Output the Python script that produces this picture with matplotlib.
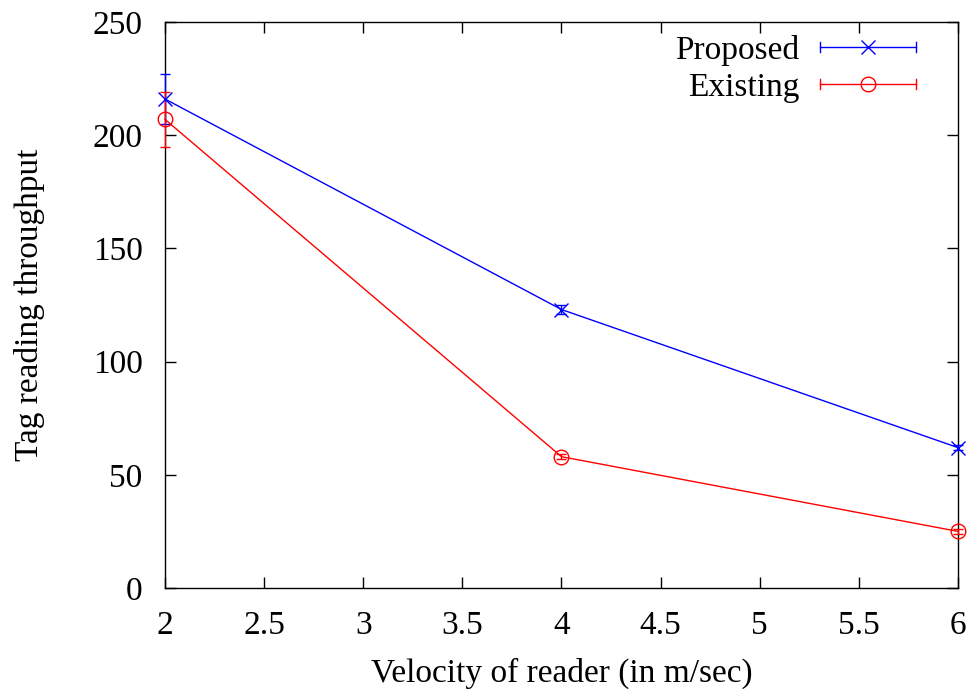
import matplotlib.pyplot as plt
from matplotlib.legend_handler import HandlerBase
from matplotlib.lines import Line2D

# Throughput vs reader velocity
velocidade = [2, 4, 6]
proposto = [216, 123, 62]
proposto_err = [11, 2, 1]
existente = [207, 58, 25]
existente_err = [12, 1, 1]

plt.rcParams['font.family'] = ['Liberation Serif', 'DejaVu Serif']
plt.rcParams['font.size'] = 24


class HandlerErroHorizontal(HandlerBase):
    ''' Amostra de legenda no estilo gnuplot: linha com barras nas pontas '''

    def create_artists(self, legend, orig, xd, yd, w, h, fontsize, trans):
        cor = orig.get_color()
        y = yd + h / 2
        linha = Line2D([xd, xd + w], [y, y], color=cor, lw=1, transform=trans)
        cap1 = Line2D([xd, xd], [y - 3.5, y + 3.5], color=cor, lw=1,
                      transform=trans)
        cap2 = Line2D([xd + w, xd + w], [y - 3.5, y + 3.5], color=cor, lw=1,
                      transform=trans)
        marca = Line2D([xd + w / 2], [y], marker=orig.get_marker(),
                       markersize=orig.get_markersize(),
                       markerfacecolor='none', markeredgecolor=cor,
                       markeredgewidth=1, linestyle='none', transform=trans)
        return [linha, cap1, cap2, marca]


fig = plt.figure(figsize=(9.76, 6.92), dpi=100)
ax = fig.add_axes([0.169, 0.1503, 0.8126, 0.8179])

ax.errorbar(velocidade, proposto, yerr=proposto_err, color='#0000ff',
            marker='x', markersize=10, markeredgewidth=1, lw=1,
            capsize=3.5, elinewidth=1, capthick=1, clip_on=False, zorder=3)
ax.errorbar(velocidade, existente, yerr=existente_err, color='#ff0000',
            marker='o', markersize=10.5, markerfacecolor='none',
            markeredgewidth=1, lw=1, capsize=3.5, elinewidth=1, capthick=1,
            clip_on=False, zorder=3)

h1 = Line2D([], [], color='#0000ff', marker='x', markersize=10)
h2 = Line2D([], [], color='#ff0000', marker='o', markersize=10.5)
leg = ax.legend([h1, h2], ['Proposed', 'Existing'],
                handler_map={Line2D: HandlerErroHorizontal()},
                loc='upper right', frameon=False, markerfirst=False,
                handlelength=2.9, handletextpad=0.6, labelspacing=0.2,
                borderaxespad=0.3, borderpad=0.0, fontsize=24,
                bbox_to_anchor=(0.96, 0.995))
for t in leg.get_texts():
    t.set_ha('right')

ax.set_xlim(2, 6)
ax.set_ylim(0, 250)
ax.set_xticks([2, 2.5, 3, 3.5, 4, 4.5, 5, 5.5, 6])
ax.set_xticklabels(['2', '2.5', '3', '3.5', '4', '4.5', '5', '5.5', '6'])
ax.set_yticks([0, 50, 100, 150, 200, 250])
ax.tick_params(direction='in', top=True, right=True, length=8, width=1,
               labelsize=24, pad=16)
for s in ax.spines.values():
    s.set_linewidth(1)

ax.set_xlabel('Velocity of reader (in m/sec)', fontsize=24, labelpad=12)
ax.set_ylabel('Tag reading throughput', fontsize=24, labelpad=34)

fig.savefig('out.png', dpi=100)
